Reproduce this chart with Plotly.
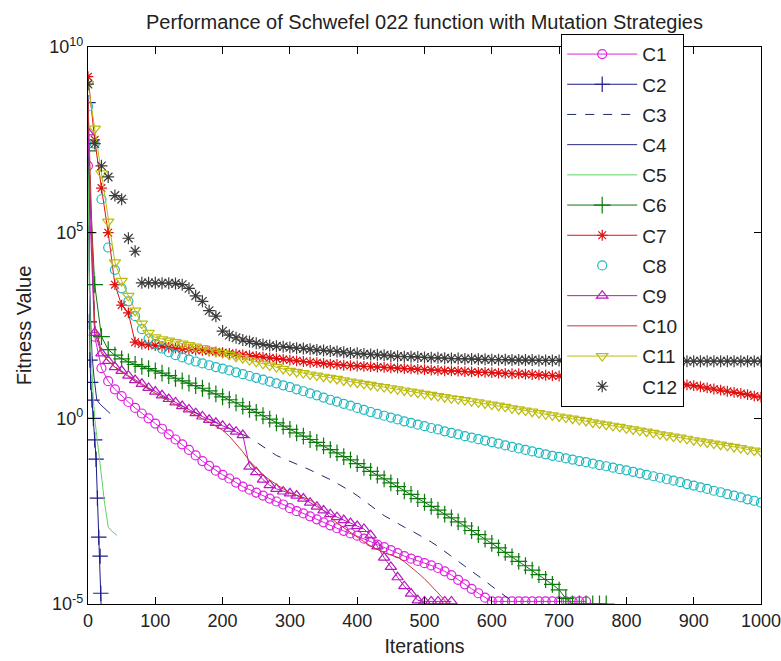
import numpy as np
import plotly.graph_objects as go

# Best fitness was logged every 10 iterations
ITER = np.arange(0, 1001, 10)

# log10 of best fitness per mutation strategy (C1..C12), one value per logged iteration
C1_LOG = [6.8, 2.2, 1.35, 1.0, 0.78, 0.6, 0.44, 0.28, 0.13, 0.0,
          -0.14, -0.28, -0.43, -0.57, -0.7, -0.85, -1.0, -1.15, -1.28, -1.41,
          -1.52, -1.62, -1.73, -1.84, -1.92, -2.0, -2.08, -2.16, -2.24, -2.32,
          -2.42, -2.5, -2.56, -2.64, -2.72, -2.8, -2.88, -2.96, -3.03, -3.1,
          -3.16, -3.24, -3.32, -3.4, -3.47, -3.55, -3.63, -3.71, -3.78, -3.84,
          -3.9, -3.96, -4.03, -4.12, -4.22, -4.35, -4.47, -4.59, -4.71, -4.83,
          -4.93, -4.93, -4.93, -4.93, -4.93, -4.93, -4.93, -4.93, -4.93, -4.93,
          -4.93, -4.93, -4.93, -4.93, -4.93]

C2_X = [0, 1, 2, 3, 4, 6, 8, 10, 12, 14, 16, 18, 19, 20]
C2_LOG = [8.5, 5.0, 2.6, 1.57, 0.97, 0.49, 0.0, -0.58, -1.1, -2.15, -3.2, -3.71, -4.71, -5.3]

C3_LOG = [8.0, 2.5, 1.8, 1.55, 1.38, 1.25, 1.12, 1.0, 0.9, 0.79,
          0.68, 0.59, 0.5, 0.41, 0.32, 0.23, 0.14, 0.06, -0.02, -0.1,
          -0.18, -0.26, -0.34, -0.42, -0.52, -0.64, -0.76, -0.9, -1.0, -1.08,
          -1.15, -1.23, -1.31, -1.39, -1.47, -1.55, -1.65, -1.75, -1.85, -1.96,
          -2.08, -2.22, -2.36, -2.5, -2.62, -2.72, -2.83, -2.93, -3.02, -3.12,
          -3.22, -3.33, -3.45, -3.58, -3.71, -3.84, -3.97, -4.1, -4.24, -4.38,
          -4.52, -4.66, -4.8, -4.93, -5.06]

C4_X = [0, 1, 2, 4, 6, 9, 13, 18, 24, 30, 33]
C4_LOG = [8.0, 6.0, 4.0, 2.6, 1.7, 1.1, 0.5, 0.38, 0.28, 0.18, 0.13]

C5_X = [0, 1, 2, 4, 6, 8, 10, 14, 18, 21, 24, 27, 30, 36, 43]
C5_LOG = [7.0, 5.0, 3.5, 2.0, 1.0, 0.5, 0.0, -0.6, -1.1, -1.7, -2.2, -2.6, -2.93, -3.05, -3.15]

C6_LOG = [7.2, 3.6, 2.2, 1.85, 1.7, 1.6, 1.52, 1.45, 1.4, 1.34,
          1.28, 1.22, 1.15, 1.08, 1.01, 0.95, 0.88, 0.81, 0.74, 0.66,
          0.58, 0.5, 0.42, 0.33, 0.24, 0.16, 0.07, -0.02, -0.12, -0.21,
          -0.3, -0.39, -0.48, -0.57, -0.65, -0.74, -0.84, -0.93, -1.03, -1.12,
          -1.22, -1.32, -1.43, -1.53, -1.63, -1.74, -1.84, -1.95, -2.05, -2.16,
          -2.26, -2.37, -2.47, -2.58, -2.68, -2.79, -2.9, -3.02, -3.13, -3.25,
          -3.37, -3.49, -3.61, -3.73, -3.85, -3.97, -4.09, -4.21, -4.34, -4.47,
          -4.62, -4.85, -5.0, -5.0, -5.0, -5.0, -5.0, -5.0]

C7_LOG = [9.2, 7.5, 6.2, 5.0, 3.6, 3.05, 2.84, 2.05, 2.0, 1.98,
          1.96, 1.94, 1.91, 1.89, 1.87, 1.86, 1.84, 1.83, 1.81, 1.79,
          1.77, 1.75, 1.73, 1.71, 1.69, 1.67, 1.65, 1.63, 1.61, 1.59,
          1.57, 1.55, 1.53, 1.51, 1.5, 1.48, 1.46, 1.45, 1.43, 1.42,
          1.41, 1.4, 1.39, 1.38, 1.37, 1.36, 1.35, 1.34, 1.33, 1.32,
          1.31, 1.3, 1.29, 1.28, 1.28, 1.27, 1.26, 1.25, 1.24, 1.24,
          1.23, 1.22, 1.21, 1.2, 1.2, 1.19, 1.18, 1.17, 1.16, 1.15,
          1.14, 1.13, 1.12, 1.11, 1.1, 1.09, 1.08, 1.07, 1.07, 1.06,
          1.05, 1.04, 1.03, 1.02, 1.01, 1.0, 0.98, 0.95, 0.92, 0.9,
          0.88, 0.85, 0.82, 0.79, 0.76, 0.73, 0.7, 0.67, 0.64, 0.6,
          0.57]

C8_LOG = [8.4, 7.4, 5.9, 4.6, 4.0, 3.5, 3.15, 2.75, 2.4, 2.15,
          2.0, 1.88, 1.78, 1.7, 1.64, 1.58, 1.53, 1.48, 1.43, 1.38,
          1.34, 1.29, 1.24, 1.19, 1.14, 1.09, 1.04, 0.99, 0.94, 0.89,
          0.84, 0.78, 0.73, 0.67, 0.62, 0.56, 0.5, 0.45, 0.39, 0.34,
          0.28, 0.23, 0.17, 0.12, 0.07, 0.02, -0.03, -0.08, -0.12, -0.17,
          -0.21, -0.26, -0.3, -0.35, -0.39, -0.43, -0.48, -0.52, -0.56, -0.6,
          -0.64, -0.68, -0.73, -0.77, -0.81, -0.85, -0.89, -0.93, -0.97, -1.01,
          -1.04, -1.08, -1.11, -1.15, -1.18, -1.22, -1.26, -1.29, -1.33, -1.37,
          -1.4, -1.44, -1.48, -1.52, -1.56, -1.6, -1.64, -1.68, -1.72, -1.77,
          -1.81, -1.86, -1.9, -1.95, -1.99, -2.04, -2.08, -2.13, -2.18, -2.22,
          -2.27]

C9_LOG = [7.7, 2.3, 1.75, 1.55, 1.38, 1.28, 1.15, 1.03, 0.93, 0.82,
          0.72, 0.62, 0.52, 0.43, 0.33, 0.24, 0.14, 0.05, -0.04, -0.12,
          -0.2, -0.28, -0.36, -0.45, -1.3, -1.45, -1.65, -1.8, -1.9, -1.97,
          -2.02, -2.08, -2.16, -2.27, -2.38, -2.48, -2.58, -2.66, -2.74, -2.82,
          -2.9, -2.98, -3.15, -3.45, -3.75, -4.0, -4.28, -4.52, -4.72, -4.9,
          -4.93, -4.93, -4.93, -4.93, -4.93]

C10_LOG = [8.6, 2.5, 1.8, 1.55, 1.38, 1.25, 1.12, 1.0, 0.9, 0.78,
           0.66, 0.56, 0.47, 0.37, 0.28, 0.18, 0.09, -0.01, -0.1, -0.2,
           -0.32, -0.48, -0.68, -0.9, -1.15, -1.35, -1.52, -1.66, -1.79, -1.9,
           -2.0, -2.06, -2.12, -2.2, -2.32, -2.5, -2.66, -2.82, -2.95, -3.08,
           -3.2, -3.32, -3.44, -3.54, -3.62, -3.68, -3.74, -3.86, -4.0, -4.16,
           -4.32, -4.5, -4.7, -4.9, -5.2]

C11_LOG = [9.0, 7.8, 6.6, 5.3, 4.2, 3.7, 3.3, 2.9, 2.55, 2.3,
           2.18, 2.13, 2.09, 2.05, 2.01, 1.97, 1.93, 1.89, 1.84, 1.8,
           1.76, 1.71, 1.66, 1.62, 1.57, 1.52, 1.47, 1.42, 1.38, 1.33,
           1.28, 1.25, 1.22, 1.18, 1.15, 1.12, 1.09, 1.06, 1.02, 0.99,
           0.96, 0.93, 0.9, 0.87, 0.84, 0.81, 0.78, 0.75, 0.72, 0.69,
           0.66, 0.63, 0.6, 0.57, 0.54, 0.52, 0.49, 0.46, 0.43, 0.4,
           0.37, 0.34, 0.31, 0.27, 0.24, 0.21, 0.18, 0.14, 0.11, 0.08,
           0.05, 0.02, -0.01, -0.04, -0.07, -0.11, -0.14, -0.17, -0.2, -0.23,
           -0.27, -0.3, -0.33, -0.36, -0.39, -0.43, -0.46, -0.49, -0.52, -0.55,
           -0.59, -0.62, -0.65, -0.68, -0.71, -0.74, -0.77, -0.8, -0.84, -0.87,
           -0.9]

C12_LOG = [9.0, 7.4, 6.8, 6.5, 6.0, 5.9, 4.85, 4.5, 3.65, 3.65,
           3.65, 3.64, 3.64, 3.63, 3.6, 3.5, 3.3, 3.15, 2.9, 2.75,
           2.35, 2.24, 2.17, 2.11, 2.07, 2.02, 1.99, 1.96, 1.94, 1.93,
           1.91, 1.89, 1.88, 1.86, 1.84, 1.83, 1.81, 1.8, 1.78, 1.76,
           1.75, 1.73, 1.72, 1.71, 1.7, 1.68, 1.67, 1.66, 1.66, 1.65,
           1.64, 1.63, 1.63, 1.62, 1.61, 1.61, 1.6, 1.6, 1.59, 1.59,
           1.58, 1.58, 1.58, 1.57, 1.57, 1.57, 1.57, 1.56, 1.56, 1.56,
           1.56, 1.55, 1.55, 1.55, 1.55, 1.55, 1.55, 1.55, 1.55, 1.55,
           1.55, 1.55, 1.55, 1.55, 1.55, 1.55, 1.54, 1.54, 1.54, 1.54,
           1.54, 1.54, 1.54, 1.54, 1.54, 1.54, 1.54, 1.54, 1.54, 1.54,
           1.54]

Y_TICKS = [1e-5, 1e0, 1e5, 1e10]
Y_TICK_TEXT = ["10<sup>-5</sup>", "10<sup>0</sup>", "10<sup>5</sup>", "10<sup>10</sup>"]
X_TICKS = [0, 100, 200, 300, 400, 500, 600, 700, 800, 900, 1000]

FONT = "Liberation Sans, Arial, sans-serif"
INK = "#222222"

# name, x, log-values, colour, mode, marker symbol, marker size, dash
SERIES = [
    ("C1", ITER, C1_LOG, "#e020e0", "lines+markers", "circle-open", 9, "solid"),
    ("C2", C2_X, C2_LOG, "#1c1c8a", "lines+markers", "cross-thin-open", 11, "solid"),
    ("C3", ITER, C3_LOG, "#1e2a66", "lines", None, 0, "dash"),
    ("C4", C4_X, C4_LOG, "#2b2b85", "lines", None, 0, "solid"),
    ("C5", C5_X, C5_LOG, "#5fd35f", "lines", None, 0, "solid"),
    ("C6", ITER, C6_LOG, "#0a7a0a", "lines+markers", "cross-thin-open", 12, "solid"),
    ("C7", ITER, C7_LOG, "#e01010", "lines+markers", "asterisk-open", 9, "solid"),
    ("C8", ITER, C8_LOG, "#1cb8c0", "markers", "circle-open", 9, "solid"),
    ("C9", ITER, C9_LOG, "#b818c0", "lines+markers", "triangle-up-open", 10, "solid"),
    ("C10", ITER, C10_LOG, "#c83838", "lines", None, 0, "solid"),
    ("C11", ITER, C11_LOG, "#bcbc10", "lines+markers", "triangle-down-open", 10, "solid"),
    ("C12", ITER, C12_LOG, "#3c3c3c", "markers", "asterisk-open", 10, "solid"),
]

fig = go.Figure()
for name, xs, logs, color, mode, symbol, size, dash in SERIES:
    n = len(logs)
    xs = list(xs)[:n]
    ys = [10 ** v for v in logs]
    kw = dict(x=xs, y=ys, name=name, mode=mode, legendgroup=name,
              line=dict(color=color, width=1, dash=dash))
    if symbol:
        kw["marker"] = dict(symbol=symbol, size=size, color=color,
                            line=dict(color=color, width=1.2))
    fig.add_trace(go.Scatter(**kw))

axis_common = dict(showline=True, linecolor="black", linewidth=1.2, mirror="ticks",
                   ticks="inside", ticklen=7, tickcolor="black", tickwidth=1,
                   showgrid=False, zeroline=False, automargin=False,
                   ticklabeloverflow="allow",
                   tickfont=dict(family=FONT, size=18, color=INK))

fig.update_xaxes(range=[0, 1000], tickvals=X_TICKS,
                 title=dict(text="Iterations", font=dict(family=FONT, size=19.5, color=INK),
                            standoff=9),
                 **axis_common)
fig.update_yaxes(type="log", range=[-5, 10], tickvals=Y_TICKS, ticktext=Y_TICK_TEXT,
                 title=dict(text="Fitness Value", font=dict(family=FONT, size=20, color=INK),
                            standoff=12),
                 **axis_common)

fig.update_layout(
    width=781, height=661,
    margin=dict(l=88, r=20, t=47, b=57),
    paper_bgcolor="white", plot_bgcolor="white",
    font=dict(family=FONT, size=18, color=INK),
    title=dict(text="Performance of Schwefel 022 function with Mutation Strategies",
               x=0.5, xref="paper", xanchor="center",
               y=1 - 22 / 661, yref="container", yanchor="middle",
               font=dict(family=FONT, size=20, color=INK)),
    legend=dict(x=(561 - 88) / 673, xanchor="left", y=1 + (47 - 34) / 557, yanchor="top",
                bgcolor="white", bordercolor="black", borderwidth=1.2,
                font=dict(family=FONT, size=19, color=INK),
                itemwidth=70, tracegroupgap=2.5, maxheight=500),
    showlegend=True,
)

fig.write_html("out.html")
